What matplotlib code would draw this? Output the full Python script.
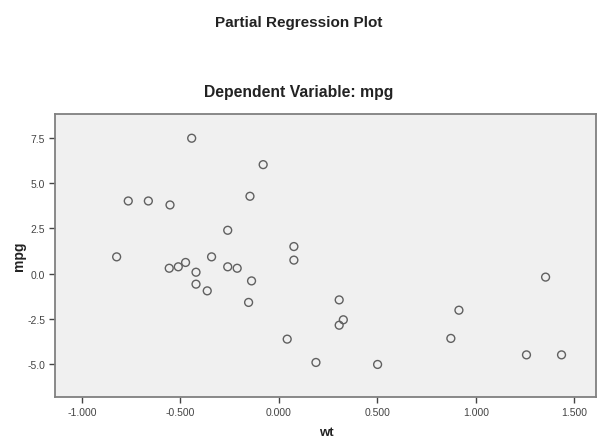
import numpy as np
import matplotlib.pyplot as plt

plt.rcParams['font.family'] = ['Liberation Sans', 'DejaVu Sans']

# partial residuals of wt and mpg
wt_resid = [-0.443, -0.080, -0.765, -0.663, -0.553, -0.147, -0.260, -0.824,
            -0.557, -0.511, -0.474, -0.421, -0.342, -0.260, -0.212, -0.139,
            0.076, 0.076, -0.421, -0.364, -0.154, 0.042, 1.354, 0.306,
            0.327, 0.306, 0.914, 0.873, 0.188, 0.501, 1.257, 1.435]
mpg_resid = [7.49, 6.03, 4.02, 4.02, 3.80, 4.28, 2.40, 0.93,
             0.30, 0.38, 0.62, 0.08, 0.93, 0.38, 0.30, -0.40,
             1.50, 0.75, -0.58, -0.95, -1.59, -3.62, -0.19, -1.45,
             -2.55, -2.85, -2.02, -3.58, -4.91, -5.02, -4.49, -4.49]

x_ticks = [-1.0, -0.5, 0.0, 0.5, 1.0, 1.5]
y_ticks = [-5.0, -2.5, 0.0, 2.5, 5.0, 7.5]

W, H = 597, 439
fig = plt.figure(figsize=(W / 100, H / 100), dpi=100)
ax = fig.add_axes([55 / W, 1 - 398 / H, 541 / W, (398 - 115) / H])
ax.set_facecolor('#f0f0f0')

ax.scatter(wt_resid, mpg_resid, s=32, facecolors='none', edgecolors='#606060',
           linewidths=1.0, zorder=3)

ax.set_xlim(-1.137, 1.61)
ax.set_ylim(-6.82, 8.83)
ax.set_xticks(x_ticks)
ax.set_xticklabels([f'{v:.3f}' for v in x_ticks])
ax.set_yticks(y_ticks)
ax.set_yticklabels([f'{v:.1f}' for v in y_ticks])
ax.tick_params(labelsize=7.5, colors='#444444', length=4, width=1.0, pad=3)

for side in ['left', 'bottom', 'top', 'right']:
    ax.spines[side].set_color('#808080')
    ax.spines[side].set_linewidth(1.3)

# axis titles placed by hand, SPSS style
fig.text(326 / W, 1 - 433 / H, 'wt', ha='center', va='center',
         fontsize=9.5, fontweight='bold', color='#222222')
fig.text(19 / W, 1 - 256 / H, 'mpg', ha='center', va='center', rotation=90,
         fontsize=10, fontweight='bold', color='#222222')

fig.text(0.5, 1 - 23 / H, 'Partial Regression Plot', ha='center', va='center',
         fontsize=11, fontweight='bold', color='#222222')
fig.text(0.5, 1 - 92 / H, 'Dependent Variable: mpg', ha='center', va='center',
         fontsize=11.3, fontweight='bold', color='#222222')

fig.savefig('out.png', dpi=100)
